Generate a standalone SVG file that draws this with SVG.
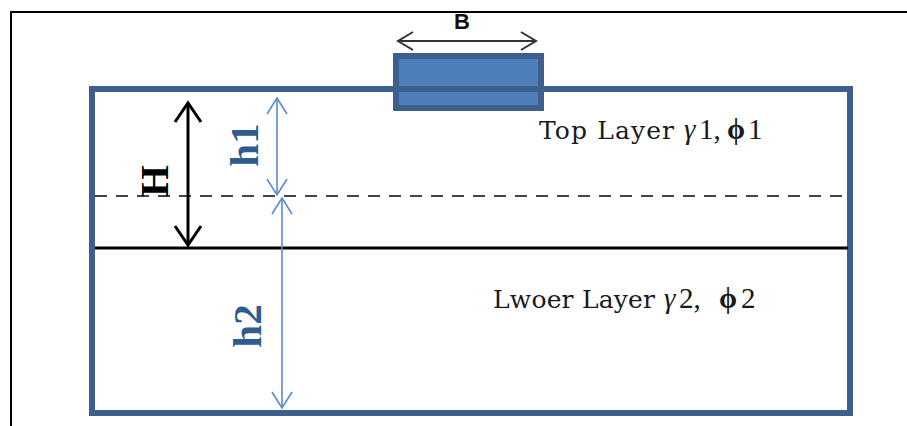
<svg xmlns="http://www.w3.org/2000/svg" width="907" height="426" viewBox="0 0 907 426">
  <style>
    .lbl { font-family: "DejaVu Serif", "Liberation Serif", serif; font-size: 25px; fill: #1a1a1a; }
    .gr { font-family: "Liberation Serif", "DejaVu Serif", serif; font-size: 29px; }
    .dim { font-family: "Liberation Serif", "Times New Roman", serif; font-size: 41px; font-weight: bold; }
    .blue { stroke: #5A8BCF; stroke-width: 1.6; fill: none; }
    .blk { stroke: #000; stroke-width: 3; fill: none; }
  </style>
  <rect width="907" height="426" fill="#fff"/>

  <!-- page frame -->
  <g id="frame" stroke="#000" stroke-width="2" fill="none">
    <path d="M11 426 V12 H907"/>
  </g>

  <!-- footing of width B -->
  <g id="footing">
    <rect x="396" y="56" width="145" height="52" fill="#4F7FBA" stroke="#3C5F8D" stroke-width="6"/>
  </g>

  <!-- soil box -->
  <g id="soil">
    <rect x="92" y="89" width="758" height="324" fill="none" stroke="#3C5F8D" stroke-width="6"/>
    <line x1="95" y1="196" x2="848" y2="196" stroke="#444" stroke-width="2" stroke-dasharray="12 9"/>
    <line x1="95" y1="248" x2="848" y2="248" stroke="#000" stroke-width="3"/>
  </g>

  <!-- dimension arrows -->
  <g id="connectors">
    <g id="dim-B" stroke="#333" stroke-width="2" fill="none">
      <line x1="398" y1="41" x2="536" y2="41"/>
      <path d="M413 32 L398 41 L413 50"/>
      <path d="M521 32 L536 41 L521 50"/>
    </g>
    <g id="dim-H" class="blk">
      <line x1="188" y1="103" x2="188" y2="245"/>
      <path d="M175 122 L188 103 L201 122"/>
      <path d="M175 226 L188 245 L201 226"/>
    </g>
    <g id="dim-h1" class="blue">
      <line x1="277" y1="98" x2="277" y2="195"/>
      <path d="M267 114 L277 98 L287 114"/>
      <path d="M267 179 L277 195 L287 179"/>
    </g>
    <g id="dim-h2" class="blue">
      <line x1="282" y1="198" x2="282" y2="408"/>
      <path d="M272 214 L282 198 L292 214"/>
      <path d="M272 392 L282 408 L292 392"/>
    </g>
  </g>

  <!-- labels -->
  <g id="label-B">
    <text x="462" y="29" text-anchor="middle" font-family="'Liberation Sans', Arial, sans-serif" font-size="22" font-weight="bold" fill="#111">B</text>
  </g>
  <g id="label-H">
    <text class="dim" transform="translate(168,181) rotate(-90)" text-anchor="middle" fill="#000">H</text>
  </g>
  <g id="label-h1">
    <text class="dim" transform="translate(258,145) rotate(-90)" text-anchor="middle" fill="#2F5B8F">h1</text>
  </g>
  <g id="label-h2">
    <text class="dim" transform="translate(261,326) rotate(-90)" text-anchor="middle" fill="#2F5B8F">h2</text>
  </g>
  <g id="label-top">
    <text class="lbl" y="139"><tspan x="539" textLength="135" lengthAdjust="spacing">Top Layer</tspan><tspan class="gr" x="684" font-style="italic">γ</tspan><tspan class="gr" x="699">1,</tspan><tspan class="gr" x="727" font-weight="bold">ϕ</tspan><tspan class="gr" x="748">1</tspan></text>
  </g>
  <g id="label-lower">
    <text class="lbl" y="308"><tspan x="493" textLength="162" lengthAdjust="spacing">Lwoer Layer</tspan><tspan class="gr" x="664" font-style="italic">γ</tspan><tspan class="gr" x="679">2,</tspan><tspan class="gr" x="719" font-weight="bold">ϕ</tspan><tspan class="gr" x="741">2</tspan></text>
  </g>
</svg>
